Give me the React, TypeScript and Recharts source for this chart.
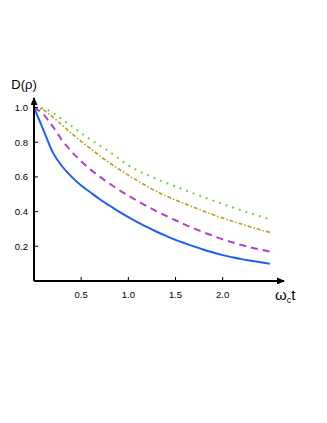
import { LineChart, Line, XAxis, YAxis, Label } from 'recharts'

const times = [0, 0.1, 0.2, 0.3, 0.4, 0.5, 0.6, 0.7, 0.8, 0.9, 1.0, 1.1, 1.2, 1.3, 1.4, 1.5, 1.6, 1.7, 1.8, 1.9, 2.0, 2.1, 2.2, 2.3, 2.4, 2.5]

const blueSolid = [1.0, 0.87, 0.74, 0.66, 0.6, 0.55, 0.51, 0.47, 0.435, 0.4, 0.368, 0.338, 0.31, 0.284, 0.26, 0.237, 0.217, 0.198, 0.18, 0.164, 0.149, 0.137, 0.126, 0.117, 0.108, 0.1]
const purpleDashed = [1.0, 0.96, 0.89, 0.81, 0.745, 0.69, 0.642, 0.6, 0.562, 0.525, 0.492, 0.46, 0.43, 0.401, 0.375, 0.35, 0.325, 0.302, 0.28, 0.26, 0.24, 0.223, 0.207, 0.193, 0.181, 0.17]
const goldDashDot = [1.0, 0.985, 0.945, 0.897, 0.85, 0.805, 0.762, 0.72, 0.681, 0.645, 0.61, 0.577, 0.545, 0.516, 0.49, 0.467, 0.445, 0.423, 0.402, 0.382, 0.363, 0.345, 0.328, 0.311, 0.295, 0.28]
const greenDotted = [1.0, 0.995, 0.97, 0.932, 0.892, 0.852, 0.815, 0.78, 0.745, 0.705, 0.667, 0.637, 0.612, 0.588, 0.566, 0.545, 0.524, 0.503, 0.483, 0.463, 0.444, 0.425, 0.407, 0.389, 0.372, 0.356]

const xMajorTicks = [0.5, 1.0, 1.5, 2.0]
const xMinorTicks = [0.1, 0.2, 0.3, 0.4, 0.5, 0.6, 0.7, 0.8, 0.9, 1.0, 1.1, 1.2, 1.3, 1.4, 1.5, 1.6, 1.7, 1.8, 1.9, 2.0, 2.1, 2.2, 2.3, 2.4]
const yMajorTicks = [0.2, 0.4, 0.6, 0.8, 1.0]
const yMinorTicks = [0.05, 0.1, 0.15, 0.2, 0.25, 0.3, 0.35, 0.4, 0.45, 0.5, 0.55, 0.6, 0.65, 0.7, 0.75, 0.8, 0.85, 0.9, 0.95]

const data = times.map((t, i) => ({
  t,
  a: blueSolid[i],
  b: purpleDashed[i],
  c: goldDashDot[i],
  d: greenDotted[i],
}))

const FONT = '"Liberation Sans", Arial, sans-serif'
const fmt = (v: number) => v.toFixed(1)
const THIN = 0.01

function YTitle(props: any) {
  const vb = props.viewBox
  return (
    <text x={vb.x - 10} y={vb.y - 9} textAnchor="middle" fontFamily={FONT} fontSize={13} fill="#000">
      D(ρ)
    </text>
  )
}

function XTitle(props: any) {
  const vb = props.viewBox
  return (
    <text x={vb.x + vb.width - 9} y={vb.y + 19} fontFamily={FONT} fontSize={15} fill="#000">
      <tspan>ω</tspan>
      <tspan dy={3} fontSize={9}>c</tspan>
      <tspan dy={-3}>t</tspan>
    </text>
  )
}

export default function App() {
  return (
    <div style={{ position: 'absolute', left: 0, top: 0, width: 327, height: 423, background: '#fff' }}>
      <svg width={0} height={0} style={{ position: 'absolute' }}>
        <defs>
          <marker id="arrowHead" viewBox="0 0 8 7" markerWidth={8} markerHeight={7} refX={7} refY={3.5} markerUnits="userSpaceOnUse" orient="auto-start-reverse">
            <path d="M0,0 L8,3.5 L0,7 z" fill="#000" />
          </marker>
        </defs>
      </svg>
      <LineChart width={327} height={423} data={data} margin={{ top: 98, right: 43, bottom: 142, left: 34 }}>
        <XAxis
          dataKey="t"
          type="number"
          domain={[0, 2.65]}
          ticks={xMajorTicks}
          interval={0}
          tickFormatter={fmt}
          height={THIN}
          axisLine={{ stroke: '#000', strokeWidth: 2, markerEnd: 'url(#arrowHead)' }}
          tickLine={{ stroke: '#000', strokeWidth: 1 }}
          tickSize={-4}
          tickMargin={14}
          tick={{ fill: '#000', fontSize: 9.5, fontFamily: FONT }}
        >
          <Label content={XTitle} />
        </XAxis>
        <XAxis
          xAxisId="minor"
          dataKey="t"
          type="number"
          domain={[0, 2.65]}
          ticks={xMinorTicks}
          interval={0}
          height={THIN}
          axisLine={false}
          tickLine={{ stroke: '#000', strokeWidth: 0.8 }}
          tickSize={-2}
          tick={false}
        />
        <YAxis
          type="number"
          domain={[0, 1.055]}
          ticks={yMajorTicks}
          interval={0}
          tickFormatter={fmt}
          width={THIN}
          axisLine={{ stroke: '#000', strokeWidth: 2, markerStart: 'url(#arrowHead)' }}
          tickLine={{ stroke: '#000', strokeWidth: 1 }}
          tickSize={-4}
          tickMargin={10}
          tick={{ fill: '#000', fontSize: 9.5, fontFamily: FONT }}
        >
          <Label content={YTitle} />
        </YAxis>
        <YAxis
          yAxisId="minor"
          type="number"
          domain={[0, 1.055]}
          ticks={yMinorTicks}
          interval={0}
          width={THIN}
          axisLine={false}
          tickLine={{ stroke: '#000', strokeWidth: 0.8 }}
          tickSize={-2}
          tick={false}
        />
        <Line type="monotone" dataKey="d" stroke="#6ad83a" strokeWidth={2} strokeDasharray="2 5" dot={false} isAnimationActive={false} />
        <Line type="monotone" dataKey="c" stroke="#b4a024" strokeWidth={1.6} strokeDasharray="4 2 1.5 2" dot={false} isAnimationActive={false} />
        <Line type="monotone" dataKey="b" stroke="#b63ad4" strokeWidth={2} strokeDasharray="7 5" dot={false} isAnimationActive={false} />
        <Line type="monotone" dataKey="a" stroke="#1f5ef5" strokeWidth={2} dot={false} isAnimationActive={false} />
      </LineChart>
    </div>
  )
}
